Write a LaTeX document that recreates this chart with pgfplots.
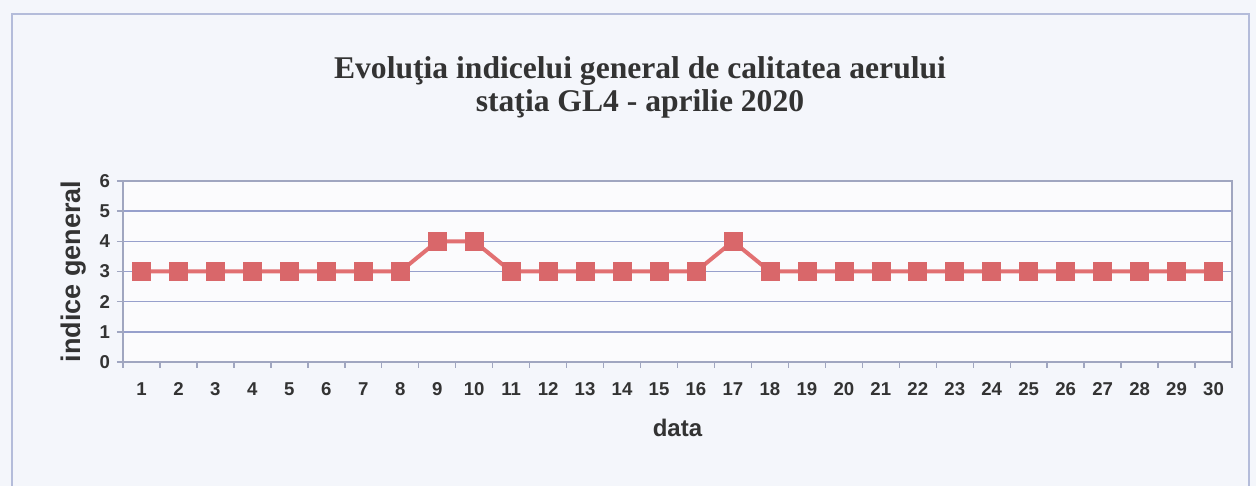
\documentclass[border=0pt]{standalone}
\usepackage{pgfplots}
\pgfplotsset{compat=1.18}
\usepackage{fontspec}
\setmainfont{Liberation Serif}
\newfontfamily\arialfont{Liberation Sans}
\definecolor{pagebg}{HTML}{F4F6FB}
\definecolor{framec}{HTML}{B4BCDA}
\definecolor{gridc}{HTML}{97A0CC}
\definecolor{axisc}{HTML}{A0A6C0}
\definecolor{linec}{HTML}{E27072}
\definecolor{markc}{HTML}{D9676A}
\definecolor{txt}{HTML}{333333}
\begin{document}
\begin{tikzpicture}
\useasboundingbox (-61.5pt,-62pt) rectangle (566.5pt,181pt);
\fill[pagebg] (-61.5pt,-62pt) rectangle (566.5pt,181pt);
\draw[framec, line width=1pt] (-55.5pt,-70pt) -- (-55.5pt,174pt) -- (563pt,174pt) -- (563pt,-70pt);
\node[font=\bfseries\fontsize{15.8}{16.5}\selectfont, text=txt, align=center] at (258.5pt,137.5pt) {Evoluţia indicelui general de calitatea aerului\\staţia GL4 - aprilie 2020};
\begin{axis}[
  at={(0,0)}, anchor=origin,
  scale only axis, width=554.5pt, height=90.5pt,
  xmin=0.5, xmax=30.5, ymin=0, ymax=6,
  axis background/.style={fill=white!60!pagebg},
  axis line style={axisc, line width=0.7pt},
  xtick={1,...,30}, major x tick style={draw=none},
  minor xtick={0.5,1.5,...,30.5},
  minor tick length=3pt,
  ytick={0,...,6}, major tick length=3pt,
  tick align=outside, tick pos=left,
  tick style={axisc, line width=0.7pt},
  ymajorgrids, grid style={gridc, line width=0.8pt},
  /pgf/number format/assume math mode=true,
  tick label style={font=\arialfont\bfseries\fontsize{9.3}{10}\selectfont, text=txt},
  xticklabel style={text height=7pt, text depth=0pt, yshift=-3pt},
  yticklabel style={xshift=0pt},
  xlabel={\arialfont\bfseries data}, ylabel={\arialfont\bfseries indice general},
  label style={text=txt},
  xlabel style={font=\fontsize{12}{13}\selectfont, yshift=-5pt},
  ylabel style={font=\fontsize{13.5}{14}\selectfont, yshift=0pt},
]
\addplot[linec, line width=2pt, mark=square*, mark size=4.5pt, mark options={fill=markc, draw=markc, line width=0.3pt}] coordinates {
(1,3)(2,3)(3,3)(4,3)(5,3)(6,3)(7,3)(8,3)(9,4)(10,4)
(11,3)(12,3)(13,3)(14,3)(15,3)(16,3)(17,4)(18,3)(19,3)(20,3)
(21,3)(22,3)(23,3)(24,3)(25,3)(26,3)(27,3)(28,3)(29,3)(30,3)};
\end{axis}
\end{tikzpicture}
\end{document}
